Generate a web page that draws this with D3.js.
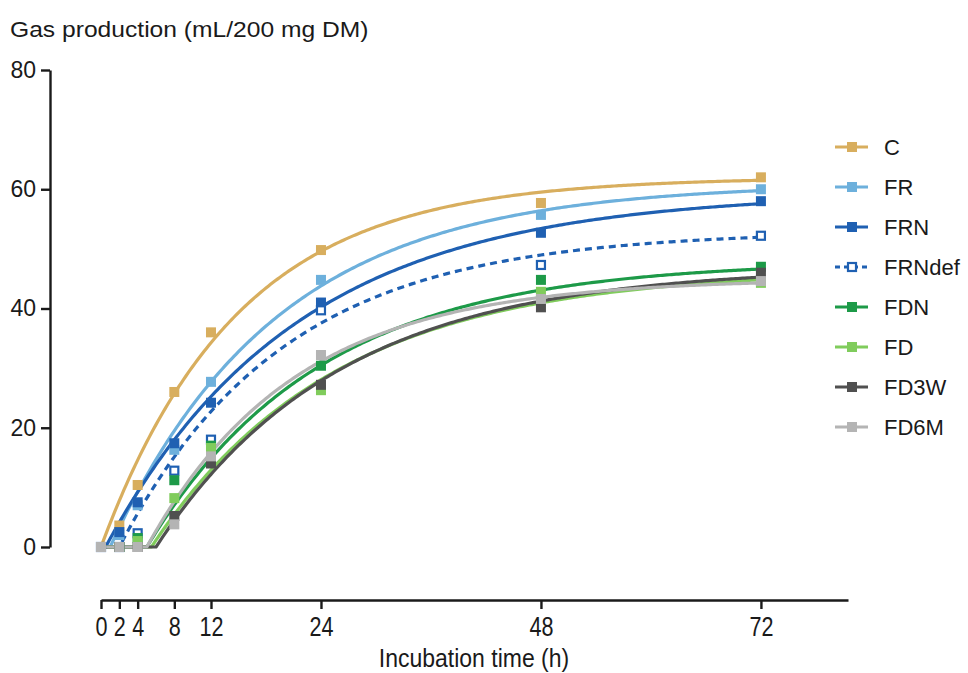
<!DOCTYPE html>
<html>
<head>
<meta charset="utf-8">
<script src="https://cdn.jsdelivr.net/npm/d3@7"></script>
<style>
  html, body { margin: 0; padding: 0; background: #fff; }
  svg { display: block; }
  text { font-family: "Liberation Sans", Arial, sans-serif; fill: #1a1a1a; }
</style>
</head>
<body>
<svg id="chart" width="968" height="673"></svg>
<script>
// Sampling times (h)
const times = [0, 2, 4, 8, 12, 24, 48, 72];
const xTicks = [0, 2, 4, 8, 12, 24, 48, 72];
const yTicks = [0, 20, 40, 60, 80];

// Treatments, in legend order
const treatments = ["C", "FR", "FRN", "FRNdef", "FDN", "FD", "FD3W", "FD6M"];

// Observed cumulative gas production (mL/200 mg DM)
const gasC      = [0, 3.6, 10.4, 26.0, 36.0, 49.8, 57.7, 62.0];
const gasFR     = [0, 2.0, 7.0, 16.3, 27.7, 44.8, 55.7, 60.0];
const gasFRN    = [0, 2.5, 7.5, 17.4, 24.2, 41.0, 52.7, 58.0];
const gasFRNdef = [0, 0.0, 2.3, 12.8, 18.0, 39.7, 47.3, 52.2];
const gasFDN    = [0, 0.0, 1.5, 11.2, 17.0, 30.4, 44.8, 47.0];
const gasFD     = [0, 0.0, 1.0, 8.2, 16.6, 26.3, 42.8, 44.3];
const gasFD3W   = [0, 0.0, 0.0, 5.2, 14.0, 27.2, 40.2, 46.0];
const gasFD6M   = [0, 0.0, 0.0, 3.8, 15.2, 32.2, 41.6, 44.6];

// Fitted exponential model with lag: y = A(1 - exp(-c(t - L))) for t > L
const fitAsymptote = [62.0, 61.0, 59.5, 53.0, 48.0, 46.5, 47.0, 45.0];
const fitRate      = [0.067, 0.055, 0.048, 0.056, 0.053, 0.050, 0.050, 0.062];
const fitLag       = [0.0, 1.0, 0.5, 2.0, 5.0, 5.5, 6.0, 5.0];

const colors = ["#d8ae5e", "#6db0dc", "#1f60b2", "#1f60b2", "#1d9a48", "#80cc5c", "#505050", "#b4b4b4"];
const dashed = [false, false, false, true, false, false, false, false];
const openMarker = [false, false, false, true, false, false, false, false];

const gasValues = [gasC, gasFR, gasFRN, gasFRNdef, gasFDN, gasFD, gasFD3W, gasFD6M];

const series = treatments.map((name, i) => ({
  name,
  color: colors[i],
  dashed: dashed[i],
  open: openMarker[i],
  points: times.map((t, j) => ({ t, v: gasValues[i][j] })),
  A: fitAsymptote[i], c: fitRate[i], L: fitLag[i]
}));

const svg = d3.select("#chart");

const x = d3.scaleLinear().domain([0, 81.5]).range([101, 848]);
const y = d3.scaleLinear().domain([0, 80]).range([547, 70]);

// Y axis
const yAxis = svg.append("g")
  .attr("transform", "translate(50,0)")
  .call(d3.axisLeft(y).tickValues(yTicks).tickSize(9).tickPadding(5).tickSizeOuter(0));
yAxis.select(".domain").attr("stroke", "#1a1a1a").attr("stroke-width", 2.4);
yAxis.selectAll(".tick line").attr("stroke", "#1a1a1a").attr("stroke-width", 2.4);
yAxis.selectAll(".tick text").attr("font-size", 23).attr("fill", "#1a1a1a")
  .style("font-family", "'Liberation Sans', Arial, sans-serif");

// X axis (condensed tick labels)
const xAxis = svg.append("g")
  .attr("transform", "translate(0,600)")
  .call(d3.axisBottom(x).tickValues(xTicks).tickSize(9).tickPadding(8).tickSizeOuter(0));
xAxis.select(".domain").attr("stroke", "#1a1a1a").attr("stroke-width", 2.4);
xAxis.selectAll(".tick line").attr("stroke", "#1a1a1a").attr("stroke-width", 2.4);
xAxis.selectAll(".tick text").attr("font-size", 27).attr("fill", "#1a1a1a")
  .attr("transform", "scale(0.8,1)")
  .style("font-family", "'Liberation Sans', Arial, sans-serif");

// Titles
svg.append("text")
  .attr("transform", "translate(10,37) scale(1.12,1)")
  .attr("font-size", 22)
  .text("Gas production (mL/200 mg DM)");

svg.append("text")
  .attr("transform", "translate(474,667) scale(0.92,1)")
  .attr("text-anchor", "middle")
  .attr("font-size", 25)
  .text("Incubation time (h)");

// Fitted curves
const line = d3.line().x(d => x(d[0])).y(d => y(d[1]));
const curveSteps = d3.range(0, 72.001, 0.25);

const plot = svg.append("g");

series.forEach(s => {
  const pts = curveSteps.map(t => [t, t <= s.L ? 0 : s.A * (1 - Math.exp(-s.c * (t - s.L)))]);
  plot.append("path")
    .attr("d", line(pts))
    .attr("fill", "none")
    .attr("stroke", s.color)
    .attr("stroke-width", 3.2)
    .attr("stroke-linejoin", "round")
    .attr("stroke-dasharray", s.dashed ? "7,5" : null);
});

// Observed points
const ms = 10;
series.forEach(s => {
  plot.append("g").selectAll("rect")
    .data(s.points)
    .join("rect")
    .attr("x", d => x(d.t) - ms / 2 + (s.open ? 1 : 0))
    .attr("y", d => y(d.v) - ms / 2 + (s.open ? 1 : 0))
    .attr("width", s.open ? ms - 2 : ms)
    .attr("height", s.open ? ms - 2 : ms)
    .attr("fill", s.open ? "#fff" : s.color)
    .attr("stroke", s.open ? s.color : "none")
    .attr("stroke-width", s.open ? 2.2 : 0);
});

// Legend
const legend = svg.append("g");
series.forEach((s, i) => {
  const ly = 147 + i * 40;
  const g = legend.append("g").attr("transform", `translate(0,${ly})`);
  g.append("line")
    .attr("x1", 835).attr("x2", 868).attr("y1", 0).attr("y2", 0)
    .attr("stroke", s.color).attr("stroke-width", 3.2)
    .attr("stroke-dasharray", s.dashed ? "5,4" : null);
  g.append("rect")
    .attr("x", 852 - ms / 2 + (s.open ? 1 : 0)).attr("y", -ms / 2 + (s.open ? 1 : 0))
    .attr("width", s.open ? ms - 2 : ms).attr("height", s.open ? ms - 2 : ms)
    .attr("fill", s.open ? "#fff" : s.color)
    .attr("stroke", s.open ? s.color : "none")
    .attr("stroke-width", s.open ? 2.2 : 0);
  g.append("text")
    .attr("x", 884).attr("y", 0).attr("dy", "0.36em")
    .attr("font-size", 22)
    .text(s.name);
});
</script>
</body>
</html>
